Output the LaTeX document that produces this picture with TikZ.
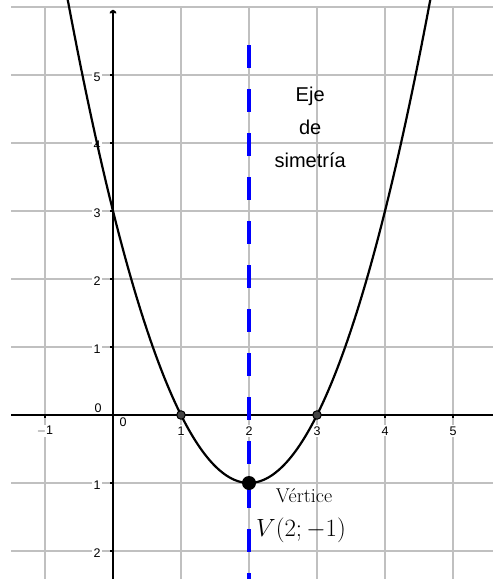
\documentclass[tikz,border=0pt]{standalone}
\usepackage{fontspec}
\newfontfamily\axfont{Liberation Sans}
\usetikzlibrary{arrows.meta}
\definecolor{gridgray}{RGB}{192,192,192}
\definecolor{ptgray}{RGB}{68,68,68}
\tikzset{
  gridline/.style={draw=gridgray, line width=2pt},
  axisline/.style={draw=black, line width=2pt},
  ticklab/.style={font=\axfont\fontsize{12.5pt}{14pt}\selectfont, fill=white, inner sep=1.2pt},
  curve/.style={draw=black, line width=2.2pt},
  symline/.style={draw=blue, line width=4.5pt, dash pattern=on 23pt off 21pt},
  rootpt/.style={circle, fill=ptgray, draw=black, line width=1pt, minimum size=8.5pt, inner sep=0pt},
  vertexpt/.style={circle, fill=black, minimum size=14pt, inner sep=0pt},
}
\begin{document}
\begin{tikzpicture}[x=68pt,y=68pt]
\useasboundingbox (-1.6618,-2.4118) rectangle (5.5882,6.1029);
% grid
\foreach \i in {-1,1,2,3,4,5}
  \draw[gridline] (\i,-2.45) -- (\i,6);
\foreach \j in {-2,-1,1,2,3,4,5,6}
  \draw[gridline] (-1.5,\j) -- (5.6,\j);
% tick labels
\foreach \i/\t in {-1/$-$1,1/1,2/2,3/3,4/4,5/5}
  \node[ticklab] (xl\i) at (\i,-0.235) {\t};
\foreach \j in {1,2,3,4,5}
  \node[ticklab] (yl\j) at (-0.235,\j-0.03) {\j};
\node[ticklab] (ylm1) at (-0.235,-1-0.03) {1};
\node[ticklab] (ylm2) at (-0.235,-2-0.03) {2};
\node[ticklab] (yl0) at (-0.22,0.10) {0};
\node[ticklab] (xl0) at (0.147,-0.10) {0};
% axes
\coordinate (xs) at (-1.5,0);
\coordinate (xe) at (5.6,0);
\coordinate (ys) at (0,-2.45);
\coordinate (ye) at (0,5.96);
\draw[axisline] (xs) -- (xe);
\draw[axisline, -{To[length=4pt,width=7pt]}] (ys) -- (ye);
\foreach \i in {-1,1,2,3,4,5}
  \draw[black, line width=1.2pt] (\i,0) -- (\i,-0.05);
\foreach \j in {-2,-1,1,2,3,4,5}
  \draw[black, line width=1.2pt] (0,\j) -- (-0.05,\j);
% symmetry axis
\coordinate (st) at (2,5.44);
\coordinate (sb) at (2,-2.45);
\draw[symline] (st) -- (sb);
% parabola
\begin{scope}
\clip (-1.6618,-2.4118) rectangle (5.5882,6.1029);
\draw[curve, smooth, samples=120, domain=-0.72:4.72] plot (\x,{(\x-2)*(\x-2)-1});
\end{scope}
% points
\node[rootpt] (r1) at (1,0) {};
\node[rootpt] (r2) at (3,0) {};
\node[vertexpt] (v) at (2,-1) {};
% texts
\node[font=\axfont\fontsize{20pt}{33pt}\selectfont, align=center] (eje) at (2.90,4.235) {Eje\\de\\simetría};
\node[font=\fontsize{20pt}{24pt}\selectfont, anchor=base, inner sep=0pt] (vt) at (2.81,-1.294) {Vértice};
\node[font=\fontsize{24.5pt}{29pt}\selectfont, anchor=base, inner sep=0pt] (vl) at (2.765,-1.794) {$V(2;-1)$};
\end{tikzpicture}
\end{document}
